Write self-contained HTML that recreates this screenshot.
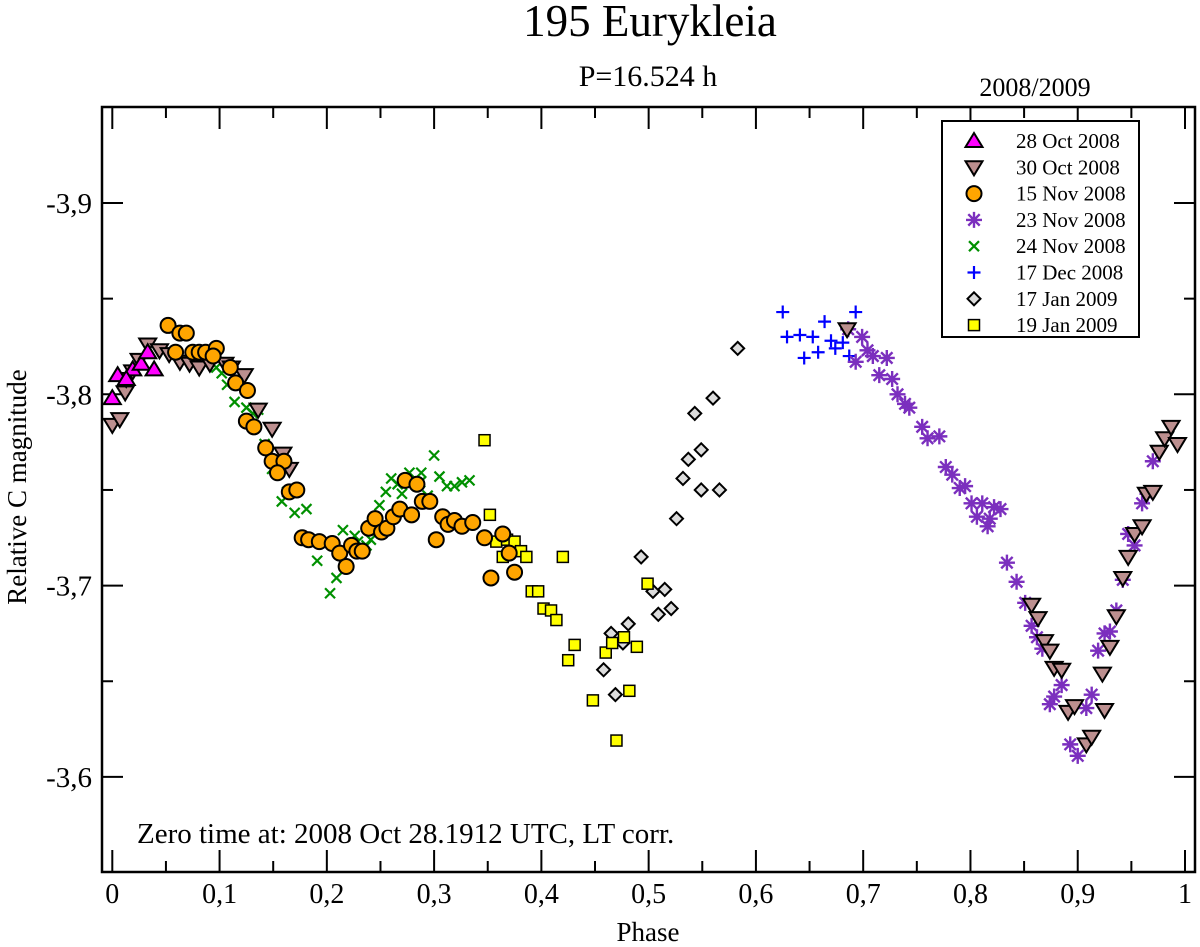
<!DOCTYPE html>
<html><head><meta charset="utf-8"><style>
html,body{margin:0;padding:0;background:#fff}
svg{display:block;font-family:"Liberation Serif",serif}
</style></head><body>
<svg id="chart" width="1200" height="947" viewBox="0 0 1200 947" xmlns="http://www.w3.org/2000/svg">
<text x="650" y="36" font-size="45" text-anchor="middle">195 Eurykleia</text>
<text x="648" y="86" font-size="30" text-anchor="middle">P=16.524 h</text>
<text x="1035" y="96" font-size="26" text-anchor="middle">2008/2009</text>
<text transform="translate(26,487) rotate(-90)" font-size="27" text-anchor="middle">Relative C magnitude</text>
<text x="648" y="941" font-size="27" text-anchor="middle">Phase</text>
<g id="axes"></g>
<g id="marks"></g>
<text x="137" y="843" font-size="29">Zero time at: 2008 Oct 28.1912 UTC, LT corr.</text>
<g id="legend"></g>
</svg>
<script>
const xTicks=[0,0.1,0.2,0.3,0.4,0.5,0.6,0.7,0.8,0.9,1];
const xTickLabels=["0","0,1","0,2","0,3","0,4","0,5","0,6","0,7","0,8","0,9","1"];
const yTicks=[-3.9,-3.8,-3.7,-3.6];
const yTickLabels=["-3,9","-3,8","-3,7","-3,6"];
const seriesNames=["28 Oct 2008","30 Oct 2008","15 Nov 2008","23 Nov 2008","24 Nov 2008","17 Dec 2008","17 Jan 2009","19 Jan 2009"];
const oct28Phase=[0.000,0.005,0.019,0.027,0.033,0.039,0.013];
const oct28Mag=[-3.798,-3.810,-3.813,-3.816,-3.822,-3.813,-3.808];
const oct30Phase=[0.000,0.007,0.012,0.013,0.019,0.025,0.033,0.044,0.053,0.063,0.072,0.081,0.091,0.105,0.111,0.123,0.136,0.149,0.159,0.165,0.685,
0.857,0.863,0.869,0.874,0.878,0.885,0.891,0.897,0.908,0.913,0.925,0.923,0.930,0.936,0.942,0.947,0.953,0.960,0.964,0.970,0.976,0.981,0.987,0.993];
const oct30Mag=[-3.784,-3.787,-3.801,-3.808,-3.812,-3.818,-3.826,-3.823,-3.821,-3.817,-3.816,-3.814,-3.816,-3.816,-3.814,-3.810,-3.792,-3.782,-3.769,-3.761,-3.834,
-3.690,-3.683,-3.671,-3.666,-3.657,-3.656,-3.634,-3.637,-3.617,-3.621,-3.635,-3.654,-3.668,-3.684,-3.704,-3.715,-3.727,-3.731,-3.748,-3.749,-3.770,-3.777,-3.783,-3.774];
const nov15Phase=[0.052,0.063,0.069,0.059,0.075,0.081,0.087,0.097,0.094,0.110,0.115,0.126,0.125,0.132,0.143,0.149,0.160,0.154,0.165,0.172,0.177,0.183,0.193,0.205,0.212,0.218,0.223,0.228,0.233,0.239,0.245,0.251,0.256,0.262,0.268,0.279,0.273,0.284,0.289,0.296,0.302,0.308,0.313,0.319,0.326,0.336,0.347,0.364,0.370,0.353,0.375];
const nov15Mag=[-3.836,-3.832,-3.832,-3.822,-3.822,-3.822,-3.822,-3.824,-3.820,-3.814,-3.806,-3.802,-3.786,-3.783,-3.772,-3.765,-3.765,-3.759,-3.749,-3.750,-3.725,-3.724,-3.723,-3.722,-3.717,-3.710,-3.721,-3.718,-3.718,-3.730,-3.735,-3.728,-3.730,-3.736,-3.740,-3.737,-3.755,-3.753,-3.744,-3.744,-3.724,-3.736,-3.732,-3.734,-3.731,-3.733,-3.725,-3.727,-3.717,-3.704,-3.707];
const nov23Phase=[0.686,0.699,0.704,0.709,0.722,0.693,0.715,0.727,0.732,0.739,0.743,0.755,0.760,0.771,0.777,0.783,0.790,0.795,0.801,0.811,0.822,0.806,0.816,0.818,
0.828,0.834,0.843,0.851,0.857,0.862,0.867,0.885,0.878,0.874,0.893,0.900,0.908,0.913,0.919,0.925,0.930,0.936,0.942,0.953,0.947,0.960,0.965,0.970];
const nov23Mag=[-3.834,-3.830,-3.823,-3.820,-3.819,-3.817,-3.810,-3.808,-3.800,-3.795,-3.793,-3.783,-3.777,-3.778,-3.762,-3.758,-3.751,-3.752,-3.743,-3.743,-3.741,-3.736,-3.731,-3.735,
-3.740,-3.712,-3.702,-3.691,-3.679,-3.673,-3.667,-3.648,-3.642,-3.638,-3.617,-3.611,-3.636,-3.643,-3.666,-3.675,-3.676,-3.687,-3.703,-3.721,-3.727,-3.743,-3.748,-3.765];
const nov24Phase=[0.097,0.102,0.107,0.114,0.125,0.131,0.136,0.142,0.149,0.154,0.163,0.158,0.170,0.181,0.187,0.191,0.203,0.209,0.215,0.226,0.229,0.237,0.241,0.249,0.255,0.260,0.266,0.270,0.277,0.288,0.287,0.294,0.300,0.305,0.312,0.319,0.326,0.333];
const nov24Mag=[-3.814,-3.811,-3.805,-3.796,-3.793,-3.790,-3.792,-3.774,-3.761,-3.759,-3.749,-3.744,-3.738,-3.740,-3.723,-3.713,-3.696,-3.704,-3.729,-3.726,-3.723,-3.721,-3.724,-3.742,-3.749,-3.756,-3.753,-3.748,-3.759,-3.759,-3.754,-3.747,-3.768,-3.757,-3.752,-3.752,-3.754,-3.755];
const dec17Phase=[0.625,0.629,0.641,0.645,0.653,0.658,0.664,0.670,0.674,0.681,0.687,0.693];
const dec17Mag=[-3.843,-3.830,-3.831,-3.819,-3.830,-3.822,-3.838,-3.828,-3.824,-3.827,-3.820,-3.843];
const jan17Phase=[0.583,0.560,0.543,0.549,0.537,0.532,0.549,0.566,0.526,0.493,0.515,0.504,0.509,0.521,0.481,0.465,0.476,0.458,0.469];
const jan17Mag=[-3.824,-3.798,-3.790,-3.771,-3.766,-3.756,-3.750,-3.750,-3.735,-3.715,-3.698,-3.697,-3.685,-3.688,-3.680,-3.675,-3.670,-3.656,-3.643];
const jan19Phase=[0.347,0.352,0.358,0.364,0.368,0.375,0.381,0.386,0.420,0.391,0.397,0.402,0.409,0.414,0.431,0.425,0.460,0.466,0.477,0.489,0.448,0.482,0.470,0.499];
const jan19Mag=[-3.776,-3.737,-3.723,-3.715,-3.724,-3.723,-3.718,-3.715,-3.715,-3.697,-3.697,-3.688,-3.687,-3.682,-3.669,-3.661,-3.665,-3.670,-3.673,-3.668,-3.640,-3.645,-3.619,-3.701];

const NS="http://www.w3.org/2000/svg";
const L=102,R=1195,T=107,B=872;
const sx=p=>112.3+p*1072.7;
const sy=m=>203+(m+3.9)*1913;
function mk(tag,attrs,parent){const e=document.createElementNS(NS,tag);for(const k in attrs)e.setAttribute(k,attrs[k]);parent.appendChild(e);return e;}
const axes=document.getElementById('axes');
const frame=mk('rect',{x:L,y:T,width:R-L,height:B-T,fill:'none',stroke:'#000','stroke-width':2.5},axes);


for(let i=0;i<xTicks.length*2-1;i++){
  const v=i*0.05, x=sx(v), len=(i%2===0)?22:11;
  const t1=mk('line',{x1:x,y1:B,x2:x,y2:B-len,stroke:'#000','stroke-width':2},axes);
  
  
  const t2=mk('line',{x1:x,y1:T,x2:x,y2:T+len,stroke:'#000','stroke-width':2},axes);
  
  
}
xTicks.forEach((v,i)=>{
  const t=mk('text',{x:sx(v),y:903,'font-size':28,'text-anchor':'middle'},axes);
  t.textContent=xTickLabels[i];
  
  
});
for(let m=-3.95;m<=-3.549;m+=0.05){
  const y=sy(m); if(y<T+1||y>B-1) continue;
  const major=Math.abs(Math.round(m*10)-m*10)<0.01, len=major?21:11;
  const t1=mk('line',{x1:L,y1:y,x2:L+len,y2:y,stroke:'#000','stroke-width':2},axes);
  
  
  const t2=mk('line',{x1:R,y1:y,x2:R-len,y2:y,stroke:'#000','stroke-width':2},axes);
  
  
}
yTicks.forEach((v,i)=>{
  const t=mk('text',{x:92,y:sy(v)+10,'font-size':29,'text-anchor':'end'},axes);
  t.textContent=yTickLabels[i];
  
  
});
function marker(type,x,y,parent){
  if(type==='up') return mk('polygon',{points:`${x},${y-8} ${x-8.5},${y+6} ${x+8.5},${y+6}`,fill:'#ff00ff',stroke:'#000','stroke-width':2},parent);
  if(type==='down') return mk('polygon',{points:`${x},${y+8} ${x-8.5},${y-6} ${x+8.5},${y-6}`,fill:'#bc8f8f',stroke:'#000','stroke-width':2},parent);
  if(type==='circle') return mk('circle',{cx:x,cy:y,r:7.5,fill:'#ffa500',stroke:'#000','stroke-width':2},parent);
  if(type==='diamond') return mk('polygon',{points:`${x},${y-6.5} ${x+6.5},${y} ${x},${y+6.5} ${x-6.5},${y}`,fill:'#dcdcdc',stroke:'#000','stroke-width':2},parent);
  if(type==='square') return mk('rect',{x:x-5.5,y:y-5.5,width:11,height:11,fill:'#ffff00',stroke:'#000','stroke-width':1.5},parent);
  if(type==='x') return mk('path',{d:`M${x-5},${y-5}L${x+5},${y+5}M${x-5},${y+5}L${x+5},${y-5}`,stroke:'#009000','stroke-width':2.2,fill:'none'},parent);
  if(type==='plus') return mk('path',{d:`M${x-6.5},${y}L${x+6.5},${y}M${x},${y-6.5}L${x},${y+6.5}`,stroke:'#0000ff','stroke-width':2.2,fill:'none'},parent);
  if(type==='star') return mk('path',{d:`M${x-8},${y}L${x+8},${y}M${x},${y-8}L${x},${y+8}M${x-5.7},${y-5.7}L${x+5.7},${y+5.7}M${x-5.7},${y+5.7}L${x+5.7},${y-5.7}`,stroke:'#7b2fbe','stroke-width':2.4,fill:'none'},parent);
}
const series=[
 ['up',oct28Phase,oct28Mag,'series-28-oct-2008'],
 ['down',oct30Phase,oct30Mag,'series-30-oct-2008'],
 ['circle',nov15Phase,nov15Mag,'series-15-nov-2008'],
 ['star',nov23Phase,nov23Mag,'series-23-nov-2008'],
 ['x',nov24Phase,nov24Mag,'series-24-nov-2008'],
 ['plus',dec17Phase,dec17Mag,'series-17-dec-2008'],
 ['diamond',jan17Phase,jan17Mag,'series-17-jan-2009'],
 ['square',jan19Phase,jan19Mag,'series-19-jan-2009']];
const marks=document.getElementById('marks');
const order=[6,7,5,3,4,1,0,2];
order.forEach(si=>{
  const [type,ph,mg,name]=series[si];
  const g=mk('g',{},marks);
  
  
  ph.forEach((p,i)=>{
    const e=marker(type,sx(p),sy(mg[i]),g);
    
    
  });
});
const leg=document.getElementById('legend');
const box=mk('rect',{x:942,y:121,width:197,height:216,fill:'#fff',stroke:'#000','stroke-width':2},leg);


const legTypes=['up','down','circle','star','x','plus','diamond','square'];
seriesNames.forEach((n,i)=>{
  const y=141+i*26.3;
  const g=mk('g',{},leg);
  
  
  marker(legTypes[i],974,y,g);
  const t=mk('text',{x:1016,y:y+7,'font-size':21},g);
  t.textContent=n;
});
</script>
</body></html>
